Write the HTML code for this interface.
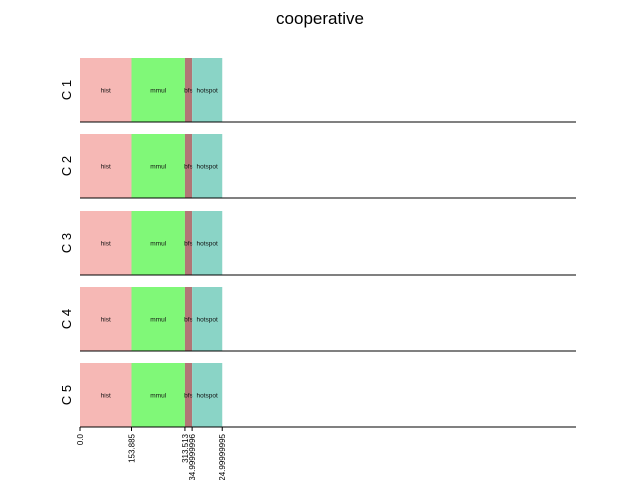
<!DOCTYPE html>
<html><head><meta charset="utf-8"><style>
body{margin:0;background:#fff;font-family:"Liberation Sans",sans-serif}
</style></head><body>
<svg id="c" width="640" height="480" xmlns="http://www.w3.org/2000/svg">
<text x="320" y="24" text-anchor="middle" font-size="17" font-family="Liberation Sans, sans-serif">cooperative</text>
</svg>
<script>
const rows=["C 1","C 2","C 3","C 4","C 5"];
const tasks=["hist","mmul","bfs","hotspot"];
const starts=[0,153.885,313.513,334.99999996];
const ends=[153.885,313.513,334.99999996,424.99999995];
const tickVals=[0,153.885,313.513,334.99999996,424.99999995];
const tickLabels=["0.0","153.885","313.513","334.99999996","424.99999995"];
const colors=["#f6b8b5","#80f878","#b27676","#8ad4c6"];
const xMax=1482;
const svg=document.getElementById('c');
const NS="http://www.w3.org/2000/svg";
const x=v=>80+v/xMax*496;
const rowTop=[58,134,211,287,363], rowH=64;
function el(t,a){const e=document.createElementNS(NS,t);for(const k in a)e.setAttribute(k,a[k]);svg.appendChild(e);return e;}
rows.forEach((r,i)=>{
  const y0=rowTop[i];
  tasks.forEach((t,j)=>{
    const b=el('rect',{x:x(starts[j]),y:y0,width:x(ends[j])-x(starts[j]),height:rowH,fill:colors[j]});
    
    
    const tx=el('text',{x:(x(starts[j])+x(ends[j]))/2,y:y0+rowH/2+2.5,'font-size':6.5,'text-anchor':'middle',fill:'#111'});
    tx.textContent=t;
    
    
  });
  const ln=el('line',{x1:80,x2:576,y1:y0+rowH,y2:y0+rowH,stroke:'#000','stroke-width':1});
  
  
  const lb=el('text',{x:0,y:0,'font-size':13,'text-anchor':'middle',transform:`translate(71,${y0+rowH/2}) rotate(-90)`});
  lb.textContent=r;
  
  
});
tickVals.forEach((v,i)=>{
  const tk=el('line',{x1:x(v),x2:x(v),y1:427,y2:431,stroke:'#000','stroke-width':1});
  
  
  const t=el('text',{x:0,y:0,'font-size':8,'text-anchor':'end',transform:`translate(${x(v)+3},434) rotate(-90)`});
  t.textContent=tickLabels[i];
  
  
});
</script>
</body></html>
